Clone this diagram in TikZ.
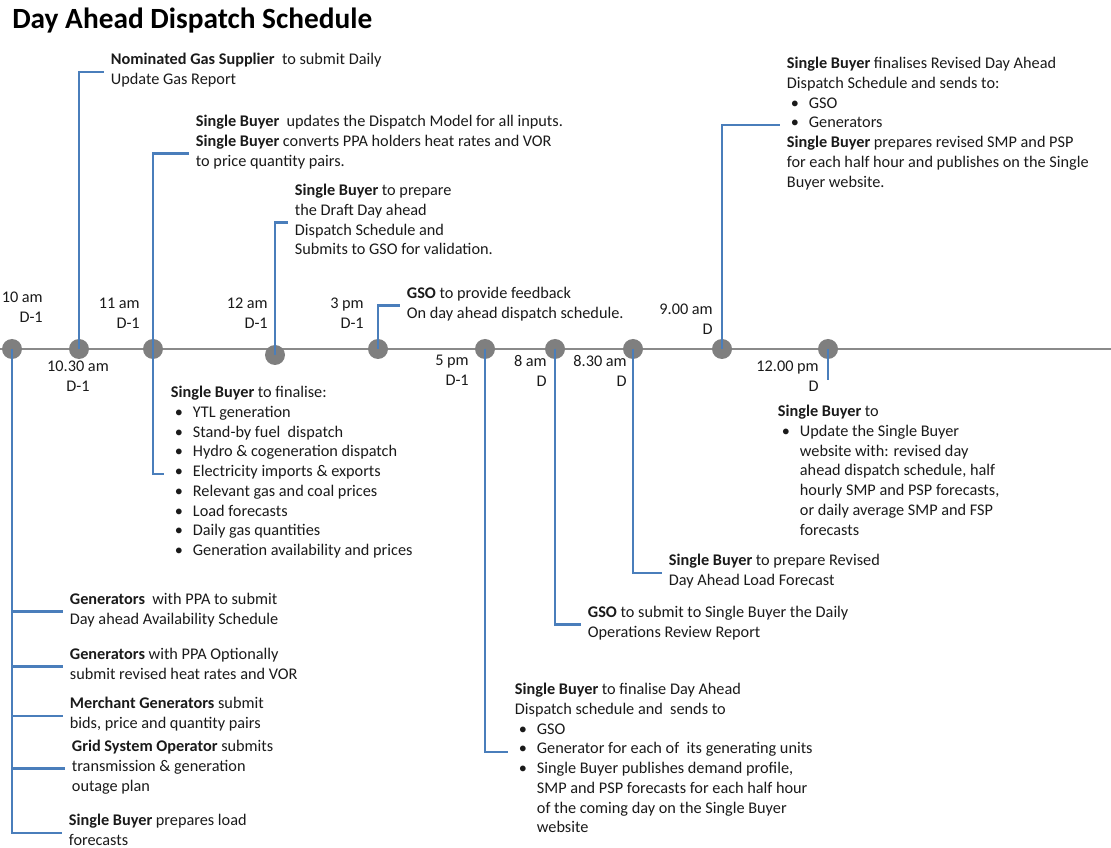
\documentclass[tikz,border=0pt]{standalone}
\usepackage{fontspec}
\setmainfont{Carlito}
\usepackage{xcolor}
\usepackage{tikz}
\usetikzlibrary{%
  positioning,
  calc}
\definecolor{lineblue}{HTML}{4A7EBB}
\definecolor{axisgray}{HTML}{8A8A8A}
\definecolor{dotgray}{HTML}{7F7F7F}
\definecolor{txtcol}{HTML}{1A1A1A}
\newcommand{\bodyfont}{\fontsize{12.2}{14.8}\selectfont}
%% bullet line and its continuation
\newcommand{\bl}[1]{\makebox[16.5pt][l]{\hspace{3pt}\textbullet}#1}
\newcommand{\bc}[1]{\hspace*{16.5pt}#1}
\tikzset{
  %% Time line
  axis/.style={draw=axisgray, line width=2.2pt},
  tdot/.style={circle, fill=dotgray, minimum size=15pt, inner sep=0pt},
  %% Connectors
  link/.style={draw=lineblue, line width=1.9pt},
  %% Text blocks
  stepnote/.style={
    anchor=north west, align=left,
    inner xsep=5pt, inner ysep=0pt,
    font=\bodyfont, text=txtcol,
    execute at begin node=\strut, execute at end node=\strut},
  timelbl/.style={
    anchor=north east, align=right, inner sep=0pt,
    font=\bodyfont, text=txtcol,
    execute at begin node=\strut},
}

\begin{document}
\begin{tikzpicture}[x=0.75pt, y=-0.75pt]
  \useasboundingbox (0,0) rectangle (1111,848);

  %% Title
  \node[anchor=west, inner sep=0pt, font=\fontsize{22}{26}\selectfont\bfseries]
    (title) at (12,21) {Day Ahead Dispatch Schedule};

  %% Time line
  \coordinate (tl0) at (0,349);
  \coordinate (tl1) at (1111,349);
  \draw[axis] (tl0) -- (tl1);

  %% Milestones
  \node[tdot] (d1)  at (12,349)  {};
  \node[tdot] (d2)  at (79,349)  {};
  \node[tdot] (d3)  at (153,349) {};
  \node[tdot] (d4)  at (275,355) {};
  \node[tdot] (d5)  at (378,349) {};
  \node[tdot] (d6)  at (485,349) {};
  \node[tdot] (d7)  at (555,349) {};
  \node[tdot] (d8)  at (633,349) {};
  \node[tdot] (d9)  at (722,349) {};
  \node[tdot] (d10) at (828,349) {};

  %% Times
  \node[timelbl] (tm1) at (43,292)  {10 am\\D-1};
  \node[timelbl, anchor=north, align=center] (tm2) at (78,361) {10.30 am\\D-1};
  \node[timelbl] (tm3) at (140,298) {11 am\\D-1};
  \node[timelbl] (tm4) at (268,298) {12 am\\D-1};
  \node[timelbl] (tm5) at (364,298) {3 pm\\D-1};
  \node[timelbl] (tm6) at (469,355) {5 pm\\D-1};
  \node[timelbl] (tm7) at (547,355) {8 am\\D};
  \node[timelbl] (tm8) at (627,355) {8.30 am\\D};
  \node[timelbl] (tm9) at (713,304) {9.00 am\\D};
  \node[timelbl] (tm10) at (819,361) {12.00 pm\\D};

  %% Upper steps
  \node[stepnote] (t2) at (104,53) {\textbf{Nominated Gas Supplier}\ \ to submit Daily\\Update Gas Report};
  \node[stepnote] (t3a) at (189,115) {\textbf{Single Buyer}\ \ updates the Dispatch Model for all inputs.\\
    \textbf{Single Buyer} converts PPA holders heat rates and VOR\\to price quantity pairs.};
  \node[stepnote] (t4) at (288,184) {\textbf{Single Buyer} to prepare\\the Draft Day ahead\\
    Dispatch Schedule and\\Submits to GSO for validation.};
  \node[stepnote] (t5) at (400,287) {\textbf{GSO} to provide feedback\\On day ahead dispatch schedule.};
  \node[stepnote] (t9) at (780,57) {\textbf{Single Buyer} finalises Revised Day Ahead\\
    Dispatch Schedule and sends to:\\\bl{GSO}\\\bl{Generators}\\
    \textbf{Single Buyer} prepares revised SMP and PSP\\
    for each half hour and publishes on the Single\\Buyer website.};

  %% Lower steps
  \node[stepnote] (t3b) at (164,386) {\textbf{Single Buyer} to finalise:\\
    \bl{YTL generation}\\\bl{Stand-by fuel\ \ dispatch}\\
    \bl{Hydro \& cogeneration dispatch}\\\bl{Electricity imports \& exports}\\
    \bl{Relevant gas and coal prices}\\\bl{Load forecasts}\\
    \bl{Daily gas quantities}\\\bl{Generation availability and prices}};
  \node[stepnote] (t6) at (508,683) {\textbf{Single Buyer} to finalise Day Ahead\\
    Dispatch schedule and\ \ sends to\\\bl{GSO}\\\bl{Generator for each of\ \ its generating units}\\
    \bl{Single Buyer publishes demand profile,}\\\bc{SMP and PSP forecasts for each half hour}\\
    \bc{of the coming day on the Single Buyer}\\\bc{website}};
  \node[stepnote] (t7) at (581,606) {\textbf{GSO} to submit to Single Buyer the Daily\\Operations Review Report};
  \node[stepnote] (t8) at (662,554) {\textbf{Single Buyer} to prepare Revised\\Day Ahead Load Forecast};
  \node[stepnote] (t10) at (771,405) {\textbf{Single Buyer} to\\
    \bl{Update the Single Buyer}\\\bc{website with: revised day}\\
    \bc{ahead dispatch schedule, half}\\\bc{hourly SMP and PSP forecasts,}\\
    \bc{or daily average SMP and FSP}\\\bc{forecasts}};

  %% Left column (10 am D-1)
  \node[stepnote] (l1) at (63,593) {\textbf{Generators}\ \ with PPA to submit\\Day ahead Availability Schedule};
  \node[stepnote] (l2) at (63,648) {\textbf{Generators} with PPA Optionally\\submit revised heat rates and VOR};
  \node[stepnote] (l3) at (63,697) {\textbf{Merchant Generators} submit\\bids, price and quantity pairs};
  \node[stepnote] (l4) at (65,740) {\textbf{Grid System Operator} submits\\transmission \& generation\\outage plan};
  \node[stepnote] (l5) at (62,814) {\textbf{Single Buyer} prepares load\\forecasts};

  %% Connectors
  \draw[link] (d1.center) -- (d1.center |- l5.west) -- (l5.west);
  \draw[link] (d1.center |- l1.west) -- (l1.west);
  \draw[link] (d1.center |- l2.west) -- (l2.west);
  \draw[link] (d1.center |- l3.west) -- (l3.west);
  \draw[link] (d1.center |- l4.west) -- (l4.west);
  \draw[link] (d2.center) |- (t2.west);
  \draw[link] ([yshift=-7.5pt]t3a.west) -| (d3.center) |- (t3b.west);
  \draw[link] (d4.center) |- (t4.west);
  \draw[link] (d5.center) |- (t5.west);
  \draw[link] (d6.center) |- ([yshift=6.75pt]t6.west);
  \draw[link] (d7.center) |- (t7.west);
  \draw[link] (d8.center) |- (t8.west);
  \draw[link] (d9.center) |- (t9.west);
  \coordinate (e10) at (828,380);
  \draw[link] (d10.center) -- (e10);

\end{tikzpicture}
\end{document}
